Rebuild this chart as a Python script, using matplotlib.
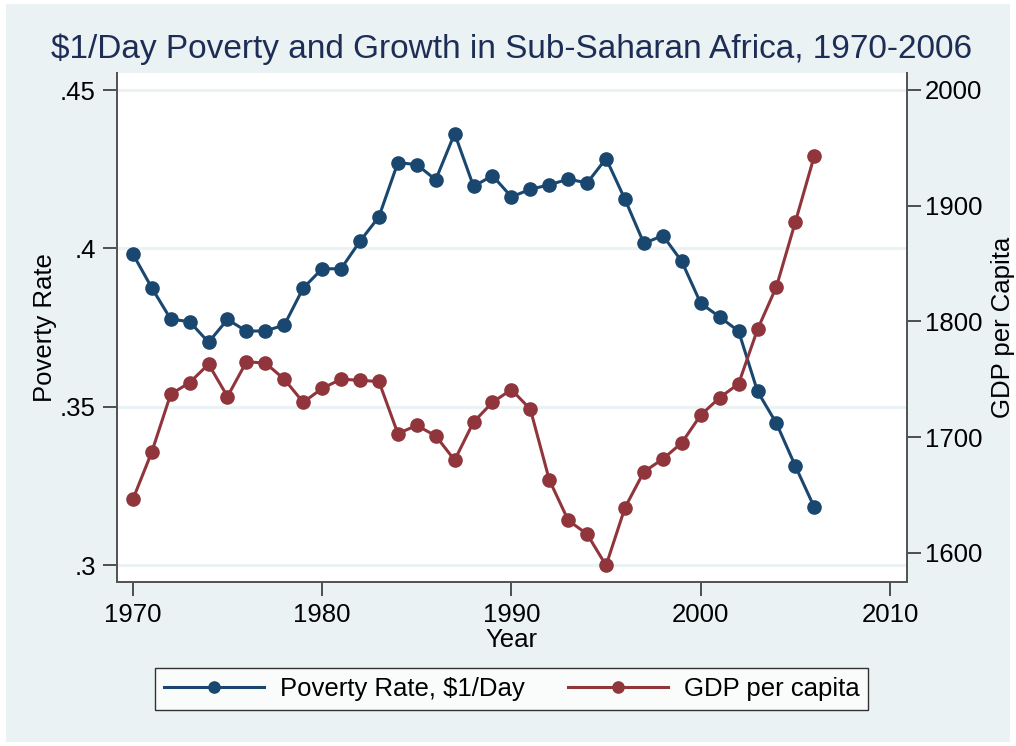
import numpy as np
import matplotlib
matplotlib.use("Agg")
import matplotlib.pyplot as plt
from matplotlib.patches import Rectangle

# data
years = list(range(1970, 2007))
poverty = [0.3983, 0.3876, 0.3777, 0.3769, 0.3704, 0.3776, 0.3739, 0.3740,
           0.3758, 0.3875, 0.3936, 0.3936, 0.4023, 0.4100, 0.4271, 0.4265,
           0.4217, 0.4363, 0.4196, 0.4230, 0.4163, 0.4187, 0.4201, 0.4219,
           0.4207, 0.4284, 0.4155, 0.4016, 0.4041, 0.3959, 0.3827, 0.3784,
           0.3739, 0.3549, 0.3448, 0.3313, 0.3183]
gdp = [1646, 1687, 1737, 1747, 1763, 1735, 1765, 1764, 1750, 1730,
       1742, 1750, 1749, 1748, 1703, 1710, 1701, 1680, 1713, 1730,
       1741, 1724, 1663, 1628, 1616, 1589, 1639, 1670, 1681, 1695,
       1719, 1734, 1746, 1793, 1830, 1886, 1943]

x_ticks = [1970, 1980, 1990, 2000, 2010]
left_ticks = [0.30, 0.35, 0.40, 0.45]
left_labels = [".3", ".35", ".4", ".45"]
right_ticks = [1600, 1700, 1800, 1900, 2000]

title = "$1/Day Poverty and Growth in Sub-Saharan Africa, 1970-2006"

blue = "#1A476F"
red = "#90353B"
bg = "#EAF2F3"
navy = "#1E2D56"

plt.rcParams['font.family'] = ['Liberation Sans', 'DejaVu Sans']

fig = plt.figure(figsize=(10.16, 7.46), dpi=100)
fig.patch.set_facecolor("white")
# light outer panel like Stata's s2color scheme
fig.add_artist(Rectangle((6 / 1016, 4 / 746), 1004 / 1016, 738 / 746,
                         transform=fig.transFigure, facecolor=bg,
                         edgecolor="none", zorder=-10))

ax = fig.add_axes([0.1149, 0.2202, 0.7775, 0.6815])
ax.set_facecolor("white")
ax2 = ax.twinx()

for y in left_ticks:
    ax.axhline(y, color=bg, lw=2.2, zorder=0)

ax.plot(years, poverty, color=blue, lw=2.2, marker="o", ms=9.5,
        label="Poverty Rate, $1/Day", zorder=3)
ax2.plot(years, gdp, color=red, lw=2.2, marker="o", ms=9.5,
         label="GDP per capita", zorder=3)

ax.set_xlim(1969.15, 2010.88)
ax.set_ylim(0.2948, 0.4553)
ax2.set_ylim(1574.9, 2014.4)

ax.set_xticks(x_ticks)
ax.set_yticks(left_ticks)
ax.set_yticklabels(left_labels)
ax2.set_yticks(right_ticks)

for a in (ax, ax2):
    for side in ("left", "right", "bottom"):
        a.spines[side].set_color("#555555")
        a.spines[side].set_linewidth(1.4)
    a.spines["top"].set_visible(False)
    a.tick_params(axis="both", length=10, width=1.2, color="#333333",
                  labelsize=18.5, pad=5)
ax2.tick_params(axis="y", pad=3)

ax.set_xlabel("Year", fontsize=18.5, labelpad=1)
ax.set_ylabel("Poverty Rate", fontsize=18.5, labelpad=2)
ax2.set_ylabel("GDP per Capita", fontsize=18.5, labelpad=6, rotation=90)

fig.text(0.5035, 0.934, title, ha="center", va="center",
         fontsize=24, color=navy)

h1, l1 = ax.get_legend_handles_labels()
h2, l2 = ax2.get_legend_handles_labels()
leg = fig.legend(h1 + h2, l1 + l2, loc="center", ncol=2,
                 bbox_to_anchor=(0.5035, 0.077), fontsize=18.5,
                 frameon=True, fancybox=False, edgecolor="black",
                 handlelength=3.9, handletextpad=0.6, columnspacing=1.7,
                 borderpad=0.35, markerscale=0.85)
leg.get_frame().set_linewidth(1.0)

fig.savefig("out.png", dpi=100, facecolor=fig.get_facecolor())
